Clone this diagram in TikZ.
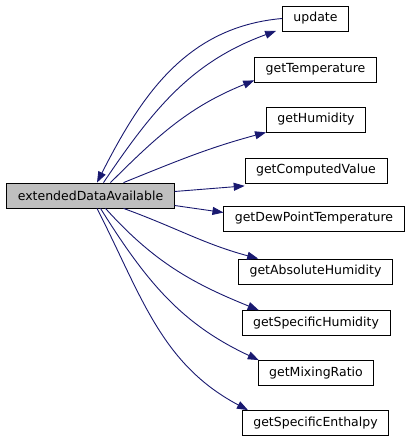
\documentclass[tikz,border=0pt]{standalone}
\usepackage{fontspec}
\setmainfont{DejaVu Sans}
\usetikzlibrary{arrows.meta}
\definecolor{callblue}{HTML}{191970}
\definecolor{mainfill}{HTML}{BFBFBF}
\tikzset{
  func/.style={draw=black,line width=0.8pt,minimum height=25pt,inner xsep=11pt,inner ysep=1pt,font=\fontsize{12.5}{14}\selectfont},
  mainfunc/.style={func,fill=mainfill},
  call/.style={draw=callblue,line width=0.9pt,-{Triangle[length=11pt,width=8pt]}}
}

\begin{document}
\begin{tikzpicture}[x=1pt,y=1pt]
  \useasboundingbox (0,0) rectangle (413,-443);
  \node[mainfunc] (main) at (90.5,-195.5) {extendedDataAvailable};
  \node[func] (update) at (315.5,-18.5) {update};
  \node[func] (temp) at (315.5,-69.5) {getTemperature};
  \node[func] (hum) at (316,-119.5) {getHumidity};
  \node[func] (comp) at (316,-170.5) {getComputedValue};
  \node[func] (dew) at (314,-218.5) {getDewPointTemperature};
  \node[func] (abshum) at (315.5,-271.5) {getAbsoluteHumidity};
  \node[func] (spechum) at (316,-323) {getSpecificHumidity};
  \node[func] (mix) at (316,-373) {getMixingRatio};
  \node[func] (enth) at (315.5,-423) {getSpecificEnthalpy};

  \draw[call] (update.west) to[out=185,in=63] ([xshift=6.5pt]main.north);
  \draw[call] ([xshift=13pt]main.north) to[out=56,in=200] ([xshift=-6pt,yshift=0.5pt]update.south west);
  \draw[call] ([xshift=20pt]main.north) to[out=45,in=202] ([yshift=2pt]temp.south west);
  \draw[call] ([xshift=33pt]main.north) to[out=22,in=195] (hum.south west);
  \draw[call] ([yshift=4pt]main.east) -- ([yshift=-2.5pt]comp.south west);
  \draw[call] ([yshift=-10pt]main.east) -- ([yshift=6pt]dew.west);
  \draw[call] ([xshift=33pt]main.south) to[out=-20,in=165] ([xshift=20pt]abshum.north west);
  \draw[call] ([xshift=15pt]main.south) to[out=-48,in=158] ([xshift=17pt]spechum.north west);
  \draw[call] ([xshift=10pt]main.south) to[out=-58,in=155] ([xshift=1pt]mix.north west);
  \draw[call] ([xshift=6.5pt]main.south) to[out=-63,in=152] ([xshift=6pt]enth.north west);
\end{tikzpicture}
\end{document}
